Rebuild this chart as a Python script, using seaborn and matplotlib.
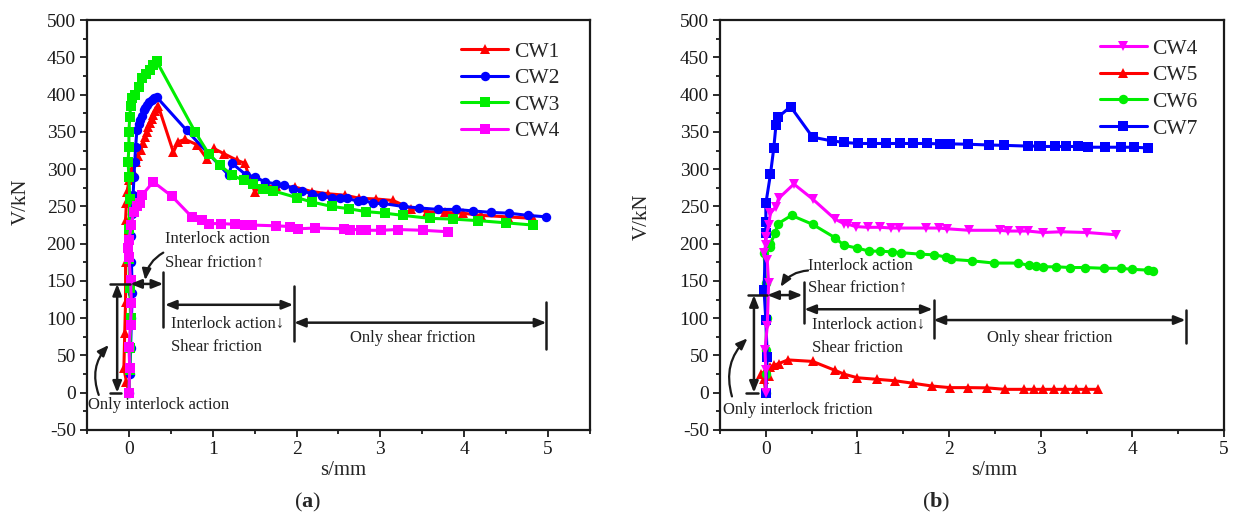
import matplotlib
matplotlib.use("Agg")
import matplotlib.pyplot as plt
import seaborn as sns
from matplotlib.ticker import MultipleLocator

# ---- panel (a) ----
cw1_s = [0.0, -0.03, -0.06, -0.05, -0.04, -0.04, -0.04, -0.03, -0.02, 0.0, 0.04, 0.08, 0.11, 0.14,
         0.17, 0.19, 0.21, 0.23, 0.25, 0.27, 0.29, 0.31, 0.33, 0.35, 0.53, 0.59, 0.67, 0.81, 0.93,
         1.01, 1.13, 1.29, 1.38, 1.5, 1.6, 1.75, 1.98, 2.18, 2.38, 2.58, 2.75, 2.95, 3.15, 3.37,
         3.56, 3.77, 3.98, 4.2, 4.52, 4.82]
cw1_v = [0, 15, 33, 80, 122, 175, 232, 255, 270, 285, 300, 310, 318, 326, 335, 343, 350, 356, 362,
         368, 373, 378, 382, 385, 323, 337, 340, 333, 314, 328, 321, 312, 308, 270, 277, 277, 276,
         270, 267, 265, 261, 260, 258, 247, 243, 242, 241, 238, 236, 234]

cw2_s = [0.0, 0.01, 0.02, 0.03, 0.04, 0.03, 0.03, 0.04, 0.05, 0.06, 0.07, 0.08, 0.095, 0.115, 0.135,
         0.155, 0.175, 0.19, 0.21, 0.24, 0.27, 0.3, 0.33, 0.69, 1.19, 1.23, 1.40, 1.5, 1.62, 1.76,
         1.85, 1.96, 2.07, 2.18, 2.30, 2.42, 2.52, 2.60, 2.73, 2.79, 2.91, 3.03, 3.27, 3.46, 3.69,
         3.9, 4.1, 4.32, 4.53, 4.76, 4.98]
cw2_v = [0, 25, 60, 100, 134, 175, 210, 240, 265, 290, 310, 330, 352, 360, 366, 372, 379, 382, 386,
         390, 393, 395, 397, 352, 292, 308, 292, 290, 283, 280, 279, 274, 271, 267, 264, 262, 262,
         261, 257, 259, 254, 254, 250, 248, 246, 246, 244, 242, 241, 238, 236]

cw3_s = [0.0, 0.01, 0.015, 0.02, 0.01, 0.0, 0.0, 0.01, 0.0, -0.01, 0.0, 0.0, 0.01, 0.02, 0.04,
         0.075, 0.115, 0.155, 0.2, 0.25, 0.29, 0.33, 0.79, 0.95, 1.09, 1.23, 1.37, 1.48, 1.6, 1.72,
         2.0, 2.18, 2.42, 2.62, 2.83, 3.05, 3.27, 3.59, 3.87, 4.16, 4.5, 4.82]
cw3_v = [0, 30, 60, 100, 140, 180, 220, 260, 290, 310, 330, 350, 370, 385, 395, 399, 410, 422, 428,
         433, 440, 445, 350, 321, 305, 292, 285, 280, 274, 271, 262, 256, 250, 247, 243, 241, 238,
         234, 233, 231, 228, 225]

cw4a_s = [0.0, 0.01, 0.0, 0.02, 0.03, 0.02, 0.0, -0.01, 0.0, 0.03, 0.056, 0.1, 0.135, 0.155, 0.29,
          0.51, 0.75, 0.87, 0.95, 1.1, 1.27, 1.39, 1.47, 1.76, 1.92, 2.02, 2.22, 2.56, 2.64, 2.77,
          2.83, 3.01, 3.21, 3.51, 3.81]
cw4a_v = [0, 33, 62, 91, 120, 151, 182, 194, 205, 225, 243, 250, 254, 265, 283, 264, 236, 232, 227,
          227, 226, 225, 225, 224, 223, 220, 221, 220, 219, 219, 218, 218, 219, 218, 216]

# ---- panel (b) ----
cw4b_s = [0.0, 0.0, -0.01, 0.015, 0.03, 0.015, -0.02, 0.0, 0.0, 0.03, 0.05, 0.106, 0.14, 0.306,
          0.51, 0.755, 0.85, 0.9, 0.98, 1.11, 1.25, 1.37, 1.45, 1.745, 1.89, 1.98, 2.22, 2.55, 2.64,
          2.77, 2.86, 3.02, 3.22, 3.51, 3.82]
cw4b_v = [0, 30, 57, 89, 147, 178, 187, 198, 209, 225, 241, 249, 261, 280, 260, 233, 227, 226, 223,
          222, 222, 221, 221, 221, 221, 220, 218, 218, 217, 217, 217, 215, 216, 215, 212]

cw5_s = [0.0, -0.02, -0.05, 0.0, 0.03, 0.05, 0.09, 0.14, 0.24, 0.51, 0.755, 0.85, 1.0, 1.21, 1.41,
         1.61, 1.81, 2.01, 2.21, 2.41, 2.61, 2.82, 2.93, 3.02, 3.15, 3.27, 3.38, 3.49, 3.62]
cw5_v = [0, 18, 25, 30, 22, 35, 37, 39, 44, 42, 30, 25, 20, 18, 16, 12.6, 9, 6.8, 6.8, 6.5, 4.5, 4.5,
         4.5, 4.5, 4.5, 4.5, 4.5, 4.5, 4.5]

cw6_s = [0.0, 0.0, 0.0, 0.01, 0.0, -0.02, 0.04, 0.05, 0.1, 0.135, 0.28, 0.51, 0.755, 0.85, 1.0,
         1.13, 1.25, 1.38, 1.47, 1.68, 1.84, 1.97, 2.02, 2.25, 2.49, 2.75, 2.87, 2.95, 3.02, 3.17,
         3.32, 3.48, 3.69, 3.88, 4.0, 4.17, 4.23]
cw6_v = [0, 25, 57, 100, 147, 187, 195, 200, 214, 227, 238, 226, 208, 198, 194, 190, 190, 189, 188,
         186, 185, 182, 179, 177, 174, 174, 171, 170, 169, 169, 168, 168, 167, 167, 165.5, 164.6, 164]

cw7_s = [0.0, 0.015, 0.0, -0.02, 0.0, 0.0, 0.0, 0.05, 0.087, 0.11, 0.135, 0.27, 0.51, 0.72, 0.85,
         1.005, 1.155, 1.31, 1.46, 1.61, 1.76, 1.90, 2.01, 2.21, 2.43, 2.60, 2.86, 2.98, 3.0, 3.16,
         3.28, 3.41, 3.52, 3.70, 3.88, 4.02, 4.17]
cw7_v = [0, 48, 97, 138, 214, 229, 254, 293, 329, 359, 370, 384, 343, 338, 336, 334.5, 334.5, 334.5,
         334.5, 334.5, 334.5, 334, 334, 333.5, 332.5, 332, 331, 331, 330.5, 330.5, 330.5, 330.5,
         329.5, 329.5, 329.5, 329.5, 328.5]

legend_a = ["CW1", "CW2", "CW3", "CW4"]
legend_b = ["CW4", "CW5", "CW6", "CW7"]

RED, BLUE, GREEN, MAGENTA = "#FF0000", "#0000FF", "#00EE00", "#FF00FF"
MSIZE = {"^": 7.5, "v": 7.5, "o": 6.8, "s": 6.5}

sns.set_theme(style="ticks")
plt.rcParams["font.family"] = ["Liberation Serif", "DejaVu Serif"]
plt.rcParams["axes.unicode_minus"] = False
plt.rcParams["mathtext.fontset"] = "custom"
plt.rcParams["mathtext.rm"] = "Liberation Serif"
plt.rcParams["mathtext.bf"] = "Liberation Serif:bold"

fig = plt.figure(figsize=(12.34, 5.18), dpi=100)
ax_a = fig.add_axes([0.0705, 0.170, 0.4076, 0.791])
ax_b = fig.add_axes([0.5835, 0.170, 0.4084, 0.791])


def draw(ax, s, v, color, marker, label):
    sns.lineplot(x=s, y=v, sort=False, estimator=None, color=color, marker=marker,
                 markersize=MSIZE[marker], markeredgewidth=0, linewidth=2.2, label=label, ax=ax)


draw(ax_a, cw1_s, cw1_v, RED, "^", "CW1")
draw(ax_a, cw2_s, cw2_v, BLUE, "o", "CW2")
draw(ax_a, cw3_s, cw3_v, GREEN, "s", "CW3")
draw(ax_a, cw4a_s, cw4a_v, MAGENTA, "s", "CW4")

draw(ax_b, cw5_s, cw5_v, RED, "^", "CW5")
draw(ax_b, cw6_s, cw6_v, GREEN, "o", "CW6")
draw(ax_b, cw7_s, cw7_v, BLUE, "s", "CW7")
draw(ax_b, cw4b_s, cw4b_v, MAGENTA, "v", "CW4")


def style_axes(ax, xmax, order, legend_xy, xlabel_x, ylabel_xy):
    ax.set_xlim(-0.5, xmax)
    ax.set_ylim(-50, 500)
    ax.xaxis.set_major_locator(MultipleLocator(1))
    ax.xaxis.set_minor_locator(MultipleLocator(0.5))
    ax.yaxis.set_major_locator(MultipleLocator(50))
    ax.yaxis.set_minor_locator(MultipleLocator(25))
    ax.tick_params(which="both", direction="out", top=False, right=False, width=1.3, colors="k",
                   labelsize=14, pad=3)
    ax.tick_params(which="major", length=5)
    ax.tick_params(which="minor", length=3)
    for sp in ax.spines.values():
        sp.set_visible(True)
        sp.set_linewidth(1.6)
        sp.set_color("k")
    ax.set_xlabel("s/mm", fontsize=15)
    ax.set_ylabel("V/kN", fontsize=15)
    ax.xaxis.set_label_coords(xlabel_x, -0.098)
    ax.yaxis.set_label_coords(*ylabel_xy)
    ax.xaxis.label.set_va("center")
    ax.yaxis.label.set_va("center")
    handles, labels = ax.get_legend_handles_labels()
    lookup = dict(zip(labels, handles))
    ax.legend([lookup[k] for k in order], order, loc="upper left", bbox_to_anchor=legend_xy,
              frameon=False, fontsize=15.5, handlelength=2.2, handletextpad=0.25,
              labelspacing=0.3, borderpad=0.2, borderaxespad=0)


style_axes(ax_a, 5.5, legend_a, (0.735, 0.958), 0.509, (-0.131, 0.556))
style_axes(ax_b, 5.0, legend_b, (0.745, 0.965), 0.544, (-0.155, 0.52))


def darrow(ax, p0, p1):
    ax.annotate("", xy=p1, xytext=p0,
                arrowprops=dict(arrowstyle="<|-|>,head_length=0.55,head_width=0.22", color="k",
                                lw=1.8, shrinkA=0, shrinkB=0))


def vbar(ax, x, y0, y1):
    ax.plot([x, x], [y0, y1], color="k", lw=1.8)


def curved(ax, p0, p1, rad):
    ax.annotate("", xy=p1, xytext=p0,
                arrowprops=dict(arrowstyle="-|>,head_length=0.55,head_width=0.22", color="k",
                                lw=1.6, shrinkA=0, shrinkB=0,
                                connectionstyle=f"arc3,rad={rad}"))


txt = dict(fontsize=12, color="#222222")

# annotations, panel (a)
ax_a.plot([-0.22, 0.016], [146, 146], color="k", lw=1.8)
ax_a.plot([-0.22, -0.1], [0, 0], color="k", lw=1.8)
darrow(ax_a, (-0.14, 0), (-0.14, 146))
darrow(ax_a, (0.016, 146), (0.41, 146))
vbar(ax_a, 0.405, 88, 162)
darrow(ax_a, (0.43, 118), (1.96, 118))
vbar(ax_a, 1.97, 70, 143)
darrow(ax_a, (1.97, 94), (4.98, 94))
vbar(ax_a, 4.97, 59, 122)
ax_a.text(0.43, 206, "Interlock action", va="center", **txt)
ax_a.text(0.43, 174, "Shear friction\u2191", va="center", **txt)
curved(ax_a, (0.41, 188), (0.195, 151), 0.25)
ax_a.text(0.50, 92, "Interlock action\u2193", va="center", **txt)
ax_a.text(0.50, 62, "Shear friction", va="center", **txt)
ax_a.text(3.39, 73, "Only shear friction", va="center", ha="center", **txt)
ax_a.text(-0.49, -16.5, "Only interlock action", va="center", **txt)
curved(ax_a, (-0.36, -3), (-0.24, 64), -0.3)

# annotations, panel (b)
ax_b.plot([-0.2, 0.015], [131, 131], color="k", lw=1.8)
ax_b.plot([-0.22, -0.09], [0, 0], color="k", lw=1.8)
darrow(ax_b, (-0.13, 0), (-0.13, 131))
darrow(ax_b, (0.015, 131), (0.40, 131))
vbar(ax_b, 0.415, 93, 149)
darrow(ax_b, (0.42, 112), (1.82, 112))
vbar(ax_b, 1.83, 74, 125)
darrow(ax_b, (1.83, 97.5), (4.58, 97.5))
vbar(ax_b, 4.58, 67, 111)
ax_b.text(0.46, 170, "Interlock action", va="center", **txt)
ax_b.text(0.46, 141, "Shear friction\u2191", va="center", **txt)
curved(ax_b, (0.46, 164), (0.16, 142), 0.25)
ax_b.text(0.50, 91, "Interlock action\u2193", va="center", **txt)
ax_b.text(0.50, 60, "Shear friction", va="center", **txt)
ax_b.text(3.10, 73, "Only shear friction", va="center", ha="center", **txt)
ax_b.text(-0.47, -23, "Only interlock friction", va="center", **txt)
curved(ax_b, (-0.37, -5), (-0.2, 73), -0.3)

fig.text(0.249, 0.03, r"($\mathbf{a}$)", ha="center", va="center", fontsize=16)
fig.text(0.759, 0.03, r"($\mathbf{b}$)", ha="center", va="center", fontsize=16)

fig.savefig("out.png", dpi=100)
